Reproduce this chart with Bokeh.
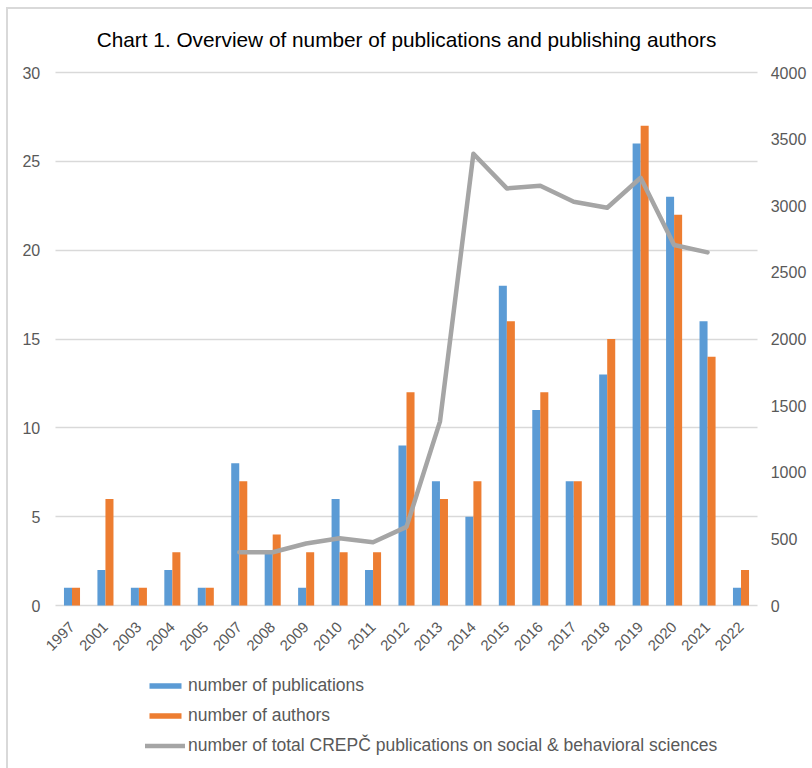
from bokeh.plotting import figure
from bokeh.models import (FactorRange, Range1d, LinearAxis, Legend, LegendItem,
                          ColumnDataSource)
from bokeh.transform import dodge
from bokeh.embed import file_html
from bokeh.resources import INLINE
import math

# ---- data -------------------------------------------------------------
years = ["1997", "2001", "2003", "2004", "2005", "2007", "2008", "2009", "2010", "2011",
         "2012", "2013", "2014", "2015", "2016", "2017", "2018", "2019", "2020", "2021", "2022"]
publications = [1, 2, 1, 2, 1, 8, 3, 1, 6, 2, 9, 7, 5, 18, 11, 7, 13, 26, 23, 16, 1]
authors = [1, 6, 1, 3, 1, 7, 4, 3, 3, 3, 12, 6, 7, 16, 12, 7, 15, 27, 22, 14, 2]

crepc_years = ["2007", "2008", "2009", "2010", "2011", "2012", "2013", "2014",
               "2015", "2016", "2017", "2018", "2019", "2020", "2021"]
crepc_totals = [400, 400, 465, 505, 475, 590, 1380, 3390, 3130, 3150, 3030, 2985, 3210, 2705, 2650]

left_ticks = [0, 5, 10, 15, 20, 25, 30]
right_ticks = [0, 500, 1000, 1500, 2000, 2500, 3000, 3500, 4000]

title_text = "Chart 1. Overview of number of publications and publishing authors"
series_names = ["number of publications", "number of authors",
                "number of total CREPČ publications on social & behavioral sciences"]

BLUE, ORANGE, GREY = "#5B9BD5", "#ED7D31", "#A5A5A5"
TEXT = "#595959"
GRID = "#D9D9D9"
FONT = "Liberation Sans"

# ---- layout -----------------------------------------------------------
W, H = 812, 768
AXIS_PX = 533          # height of the 0..max value span
ABOVE_PX = 12          # room above the top tick so its label is not clipped
BELOW_PX = 155         # frame continues below zero for year labels + legend
LEFT_MAX, RIGHT_MAX = 30, 4000
left_lo = -LEFT_MAX * BELOW_PX / AXIS_PX
left_hi = LEFT_MAX * (AXIS_PX + ABOVE_PX) / AXIS_PX
right_lo = -RIGHT_MAX * BELOW_PX / AXIS_PX
right_hi = RIGHT_MAX * (AXIS_PX + ABOVE_PX) / AXIS_PX
n_cat = len(years)
side_pad = (W / 33.45 - n_cat) / 2   # categories of empty room on each side

bars = ColumnDataSource(dict(year=years, pubs=publications, auth=authors))
line = ColumnDataSource(dict(year=crepc_years, total=crepc_totals))

p = figure(width=W, height=H,
           x_range=FactorRange(*years, range_padding=side_pad, range_padding_units="absolute"),
           y_range=Range1d(left_lo, left_hi),
           output_backend="svg", toolbar_location=None,
           min_border_left=0, min_border_right=0, min_border_top=72 - ABOVE_PX,
           min_border_bottom=8)
p.outline_line_color = None
p.background_fill_alpha = 0
p.border_fill_alpha = 0
# thin frame line along the top and left edge of the chart area
p.styles = {
    "background-image": "linear-gradient(#D9D9D9, #D9D9D9), linear-gradient(#D9D9D9, #D9D9D9)",
    "background-position": "6px 7px, 6px 7px",
    "background-size": "2px 800px, 820px 2px",
    "background-repeat": "no-repeat",
}

# chart title
p.title.text = title_text
p.title.align = "center"
p.title.text_color = "#000000"
p.title.text_font = FONT
p.title.text_font_size = "20.8px"
p.title.text_font_style = "normal"
p.title.standoff = 20

p.extra_y_ranges = {"total": Range1d(right_lo, right_hi)}

# horizontal grid limited to the category span
grid_props = p.ygrid[0].properties()
p.ygrid.grid_line_color = GRID
p.ygrid.grid_line_width = 1.5
if "cross_bounds" in grid_props:
    p.ygrid.cross_bounds = (0, n_cat)
else:
    p.ygrid.grid_line_color = None
    p.segment(x0=[0] * len(left_ticks), x1=[n_cat] * len(left_ticks), y0=left_ticks,
              y1=left_ticks, line_color=GRID, line_width=1.5)

r_pub = p.vbar(x=dodge("year", -0.12, range=p.x_range), top="pubs", width=0.24, source=bars,
               fill_color=BLUE, line_color=None)
r_auth = p.vbar(x=dodge("year", 0.12, range=p.x_range), top="auth", width=0.24, source=bars,
                fill_color=ORANGE, line_color=None)
r_line = p.line(x="year", y="total", source=line, y_range_name="total",
                line_color=GREY, line_width=4.5, line_join="round", line_cap="round")

# left axis, pinned to the left edge of the category span
yl = p.yaxis[0]
yl.fixed_location = 0
yl.ticker = left_ticks
yl.axis_line_color = None
yl.major_tick_line_color = None
yl.minor_tick_line_color = None
yl.major_label_text_color = TEXT
yl.major_label_text_font = FONT
yl.major_label_text_font_size = "16px"
yl.major_label_standoff = 9

# right axis, pinned to the right edge of the category span
yr = LinearAxis(y_range_name="total", ticker=right_ticks, fixed_location=n_cat)
yr.axis_line_color = None
yr.major_tick_line_color = None
yr.minor_tick_line_color = None
yr.major_label_text_color = TEXT
yr.major_label_text_font = FONT
yr.major_label_text_font_size = "16px"
yr.major_label_standoff = 7
p.add_layout(yr, "right")

# category axis, pinned to the zero line
xa = p.xaxis[0]
xa.fixed_location = 0
xa.axis_line_color = None
xa.major_tick_line_color = None
xa.minor_tick_line_color = None
xa.major_label_orientation = math.pi / 4
xa.major_label_text_color = TEXT
xa.major_label_text_font = FONT
xa.major_label_text_font_size = "15px"
xa.major_label_standoff = 13

p.xgrid.grid_line_color = None

legend = Legend(items=[LegendItem(label=series_names[0], renderers=[r_pub]),
                       LegendItem(label=series_names[1], renderers=[r_auth]),
                       LegendItem(label=series_names[2], renderers=[r_line])],
                location=(145, 0), orientation="vertical",
                glyph_width=40, glyph_height=7, label_height=30, spacing=0,
                label_standoff=3, padding=0, margin=0,
                border_line_color=None, background_fill_alpha=0,
                label_text_color=TEXT, label_text_font=FONT, label_text_font_size="17.5px")
p.add_layout(legend, "center")

open("out.html", "w").write(file_html(p, INLINE))
